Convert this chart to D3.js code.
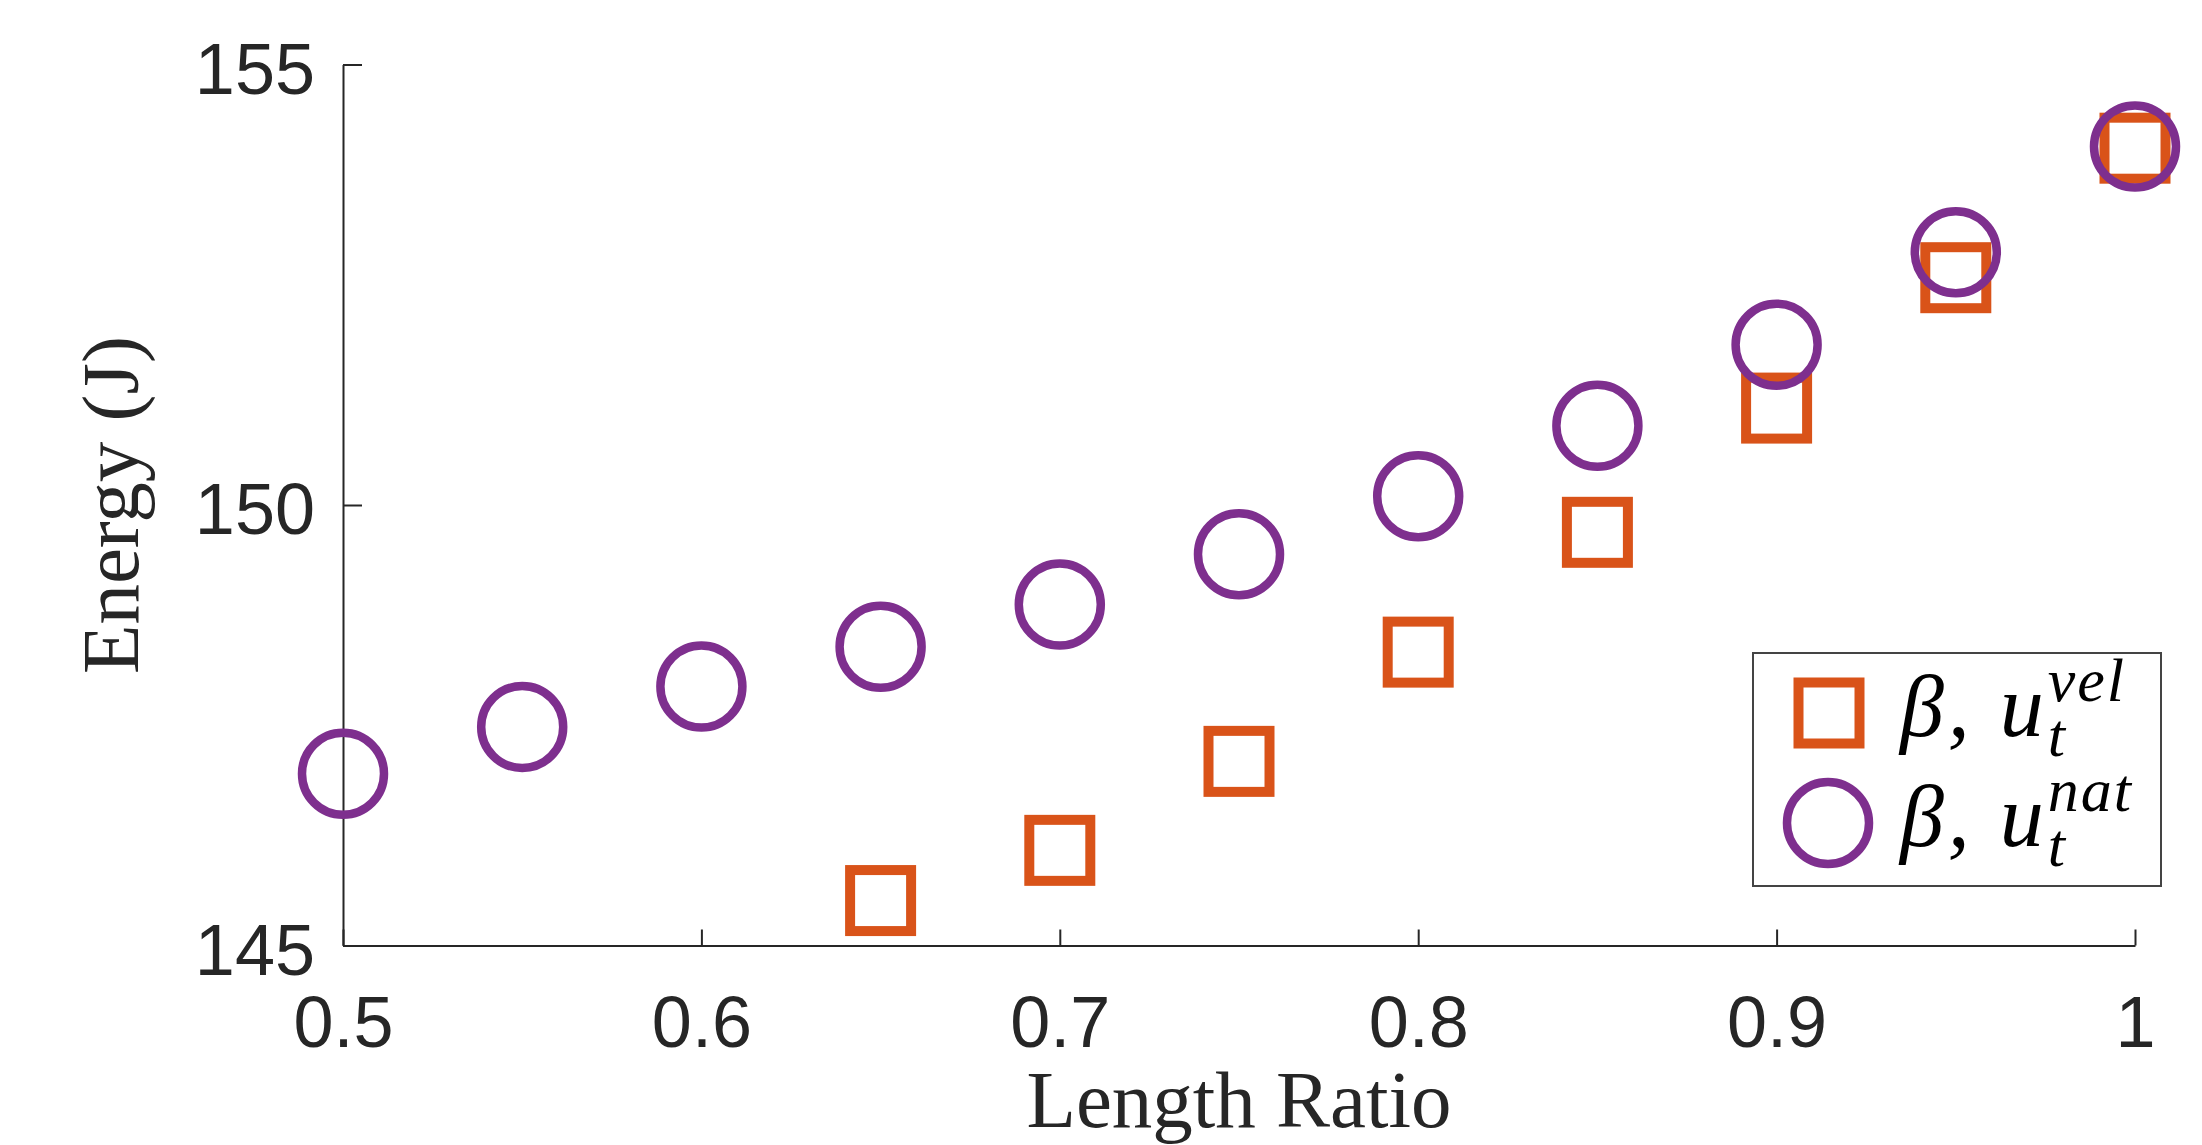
<!DOCTYPE html>
<html>
<head>
<meta charset="utf-8">
<script src="https://cdn.jsdelivr.net/npm/d3@7"></script>
<style>
  body { margin: 0; background: #fff; }
  svg { display: block; }
</style>
</head>
<body>
<svg id="chart" width="2202" height="1145"></svg>
<script>
// length ratio on the x axis
var ratios = [0.5, 0.55, 0.6, 0.65, 0.7, 0.75, 0.8, 0.85, 0.9, 0.95, 1.0]
// beta, u_t^vel (squares) - first three are below 145 and fall off the axes
var energyVel = [null, null, null, 145.51, 146.08, 147.09, 148.33, 149.69, 151.10, 152.58, 154.05]
// beta, u_t^nat (circles)
var energyNat = [146.95, 147.48, 147.94, 148.39, 148.87, 149.44, 150.10, 150.90, 151.82, 152.87, 154.07]

var xTicks = [0.5, 0.6, 0.7, 0.8, 0.9, 1]
var yTicks = [145, 150, 155]

var orange = "#D95319"
var purple = "#7E2F8E"
var axisColor = "#262626"
var serif = "'Liberation Serif', 'Times New Roman', serif"

var svg = d3.select("#chart")

var x = d3.scaleLinear().domain([0.5, 1]).range([343, 2135])
var y = d3.scaleLinear().domain([145, 155]).range([945.5, 64.5])

// axes (matlab style, box off, ticks inside)
var xAxis = d3.axisBottom(x).tickValues(xTicks).tickSizeInner(-16).tickSizeOuter(0)
    .tickFormat(function(d) { return d === 1 ? "1" : d3.format(".1f")(d) })
var yAxis = d3.axisLeft(y).tickValues(yTicks).tickSizeInner(-19).tickSizeOuter(0)

var gx = svg.append("g")
    .attr("transform", "translate(0," + y(145) + ")")
    .call(xAxis)
gx.select(".domain").attr("stroke", axisColor).attr("stroke-width", 2)
gx.selectAll(".tick line").attr("stroke", axisColor).attr("stroke-width", 2)
gx.selectAll(".tick text")
    .attr("fill", axisColor)
    .attr("y", 101)
    .attr("dy", 0)
    .style("font-family", "'Liberation Sans', Arial, sans-serif")
    .style("font-size", "72px")

var gy = svg.append("g")
    .attr("transform", "translate(" + x(0.5) + ",0)")
    .call(yAxis)
gy.select(".domain").attr("stroke", axisColor).attr("stroke-width", 2)
gy.selectAll(".tick line").attr("stroke", axisColor).attr("stroke-width", 2)
gy.selectAll(".tick text")
    .attr("fill", axisColor)
    .attr("x", -28)
    .attr("dy", "0.4em")
    .style("font-family", "'Liberation Sans', Arial, sans-serif")
    .style("font-size", "72px")

// axis labels
svg.append("text")
    .attr("x", x(0.75))
    .attr("y", 1127)
    .attr("text-anchor", "middle")
    .attr("fill", axisColor)
    .style("font-family", serif)
    .style("font-size", "81px")
    .text("Length Ratio")

svg.append("text")
    .attr("transform", "translate(138," + y(150) + ") rotate(-90)")
    .attr("text-anchor", "middle")
    .attr("fill", axisColor)
    .style("font-family", serif)
    .style("font-size", "81px")
    .text("Energy (J)")

// squares
var sq = 61
svg.append("g").selectAll("rect")
    .data(ratios.map(function(r, i) { return {r: r, v: energyVel[i]} })
        .filter(function(d) { return d.v !== null }))
    .enter().append("rect")
    .attr("x", function(d) { return x(d.r) - sq / 2 })
    .attr("y", function(d) { return y(d.v) - sq / 2 })
    .attr("width", sq)
    .attr("height", sq)
    .attr("fill", "none")
    .attr("stroke", orange)
    .attr("stroke-width", 10)

// circles on top
svg.append("g").selectAll("circle")
    .data(ratios.map(function(r, i) { return {r: r, v: energyNat[i]} }))
    .enter().append("circle")
    .attr("cx", function(d) { return x(d.r) })
    .attr("cy", function(d) { return y(d.v) })
    .attr("r", 41)
    .attr("fill", "none")
    .attr("stroke", purple)
    .attr("stroke-width", 8.5)

// legend
var lg = svg.append("g")
lg.append("rect")
    .attr("x", 1753).attr("y", 653)
    .attr("width", 408).attr("height", 233)
    .attr("fill", "#fff")
    .attr("stroke", "#444").attr("stroke-width", 2)

lg.append("rect")
    .attr("x", 1829 - sq / 2).attr("y", 713 - sq / 2)
    .attr("width", sq).attr("height", sq)
    .attr("fill", "none").attr("stroke", orange).attr("stroke-width", 10)
lg.append("circle")
    .attr("cx", 1828).attr("cy", 823).attr("r", 41)
    .attr("fill", "none").attr("stroke", purple).attr("stroke-width", 8.5)

// math labels: one text per row, sub and sup stacked with tspans
var legendRows = [{sup: "vel", base: 736}, {sup: "nat", base: 846}]
legendRows.forEach(function(row) {
    var t = lg.append("text")
        .attr("x", 1900).attr("y", row.base)
        .style("font-family", serif)
        .style("font-style", "italic")
        .attr("fill", "#000")
    t.append("tspan")
        .style("font-size", "88px")
        .style("letter-spacing", "4px")
        .text("\u03b2, u")
    var sub = t.append("tspan")
        .attr("dy", 20)
        .style("font-size", "62px")
        .text("t")
    var subW = sub.node().getComputedTextLength()
    t.append("tspan")
        .attr("dx", -subW)
        .attr("dy", -55)
        .style("font-size", "62px")
        .style("letter-spacing", "2px")
        .text(row.sup)
})
</script>
</body>
</html>
